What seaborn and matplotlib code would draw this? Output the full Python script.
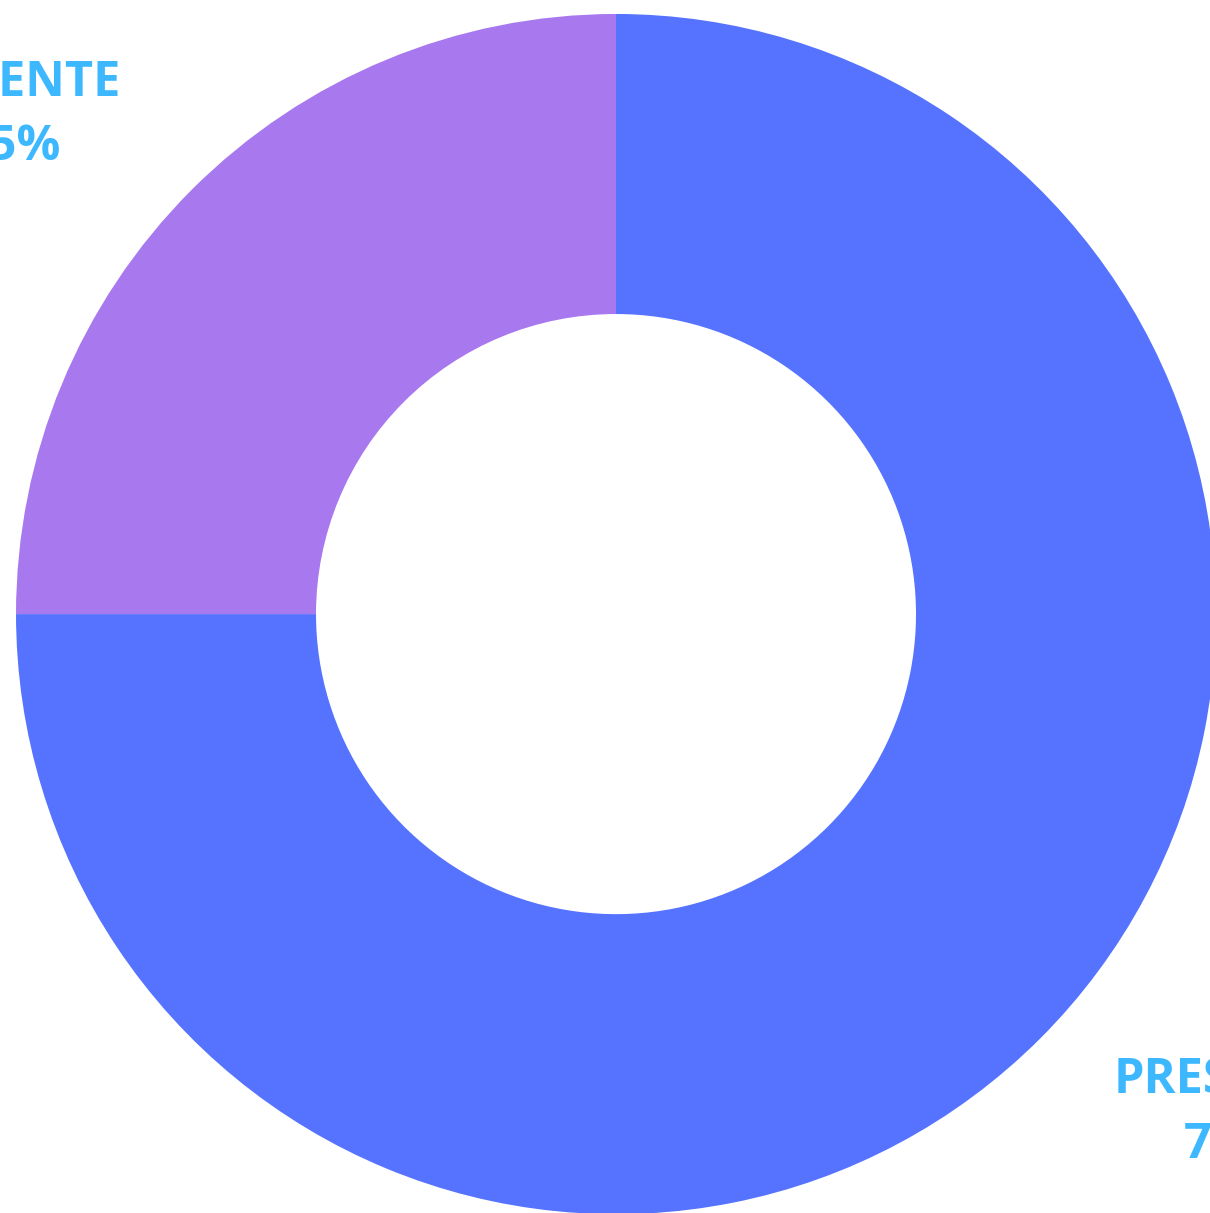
import numpy as np
import matplotlib.pyplot as plt
import seaborn as sns

sns.set_theme(style="white")
plt.rcParams['font.family'] = ['Open Sans', 'DejaVu Sans']

categorias = ["PRESENTE", "AUSENTE"]
valores = [75, 25]
cores = ["#5573FF", "#A878EF"]

fig = plt.figure(figsize=(12.1, 12.13), dpi=100)
ax = fig.add_axes([0, 0, 1, 1])

wedges, _ = ax.pie(
    valores,
    colors=cores,
    startangle=90,
    counterclock=False,
    radius=1,
    wedgeprops=dict(width=0.5, linewidth=0),
)

# rótulos no meio de cada fatia, fora do anel
total = sum(valores)
for w, cat, v in zip(wedges, categorias, valores):
    ang = np.deg2rad((w.theta1 + w.theta2) / 2)
    x = 1.44 * np.cos(ang) + 0.01
    y = 1.175 * np.sin(ang)
    ax.text(x, y, f"{cat}\n{v / total * 100:.0f}%", ha="center", va="center",
            fontsize=35, fontweight="bold", color="#3DB8FF", linespacing=1.43)

ax.set_xlim(-1.0267, 0.99)
ax.set_ylim(-0.998, 1.0233)
ax.set_aspect("auto")
ax.axis("off")

fig.savefig("out.png")
